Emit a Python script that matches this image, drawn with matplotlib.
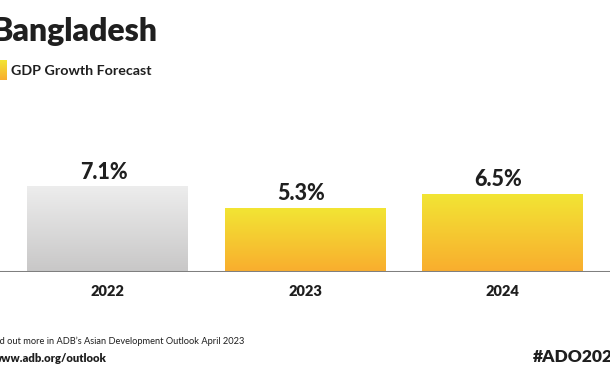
import numpy as np
import matplotlib.pyplot as plt
from matplotlib.colors import LinearSegmentedColormap

# Data
years = ["2022", "2023", "2024"]
growth = [7.1, 5.3, 6.5]
labels = ["7.1%", "5.3%", "6.5%"]
actual = [True, False, False]   # 2022 is actual (grey), rest forecast (yellow)

grey_cmap = LinearSegmentedColormap.from_list("grey", ["#c8c7c7", "#ededed"])
gold_cmap = LinearSegmentedColormap.from_list("gold", ["#f9ad2e", "#f2e534"])

fig = plt.figure(figsize=(6.1, 3.8), dpi=100)
fig.patch.set_facecolor("white")
ax = fig.add_axes([0, 108 / 380, 1, 120 / 380])

bar_w = 0.815
x = np.arange(len(years))
grad = np.linspace(0, 1, 256).reshape(-1, 1)
ink = "#1f1f1f"

for xi, val, lab, is_act in zip(x, growth, labels, actual):
    cmap = grey_cmap if is_act else gold_cmap
    ax.imshow(grad, extent=(xi - bar_w / 2, xi + bar_w / 2, 0, val),
              origin="lower", cmap=cmap, aspect="auto", zorder=1)
    ax.text(xi - 0.02, val + 0.35, lab, ha="center", va="bottom",
            fontsize=15.5, fontweight="black", family="Lato", color=ink)
    ax.text(xi, -1.05, years[xi], ha="center", va="top",
            fontsize=10.5, fontweight="heavy", family="Lato", color=ink)

ax.axhline(0, color="#7f7f7f", lw=2.2, zorder=3)
ax.set_xlim(-0.544, 2.544)
ax.set_ylim(0, 10)
ax.axis("off")

# Title and legend
fig.text(-0.014, 1 - 32 / 380, "Bangladesh", ha="left", va="center",
         fontsize=23, fontweight="heavy", family="Lato", color=ink)
leg = fig.add_axes([-0.01, 1 - 80 / 380, 0.02, 20 / 380])
leg.imshow(grad, origin="lower", cmap=gold_cmap, aspect="auto",
           extent=(0, 1, 0, 1))
leg.axis("off")
fig.text(11 / 610, 1 - 71 / 380, "GDP Growth Forecast", ha="left", va="center",
         fontsize=10.3, fontweight="bold", family="Lato", color=ink)

# Footer
fig.text(-0.021, 1 - 341 / 380, "Find out more in ADB\u2019s Asian Development Outlook April 2023",
         ha="left", va="center", fontsize=6.7, family="Lato", color=ink)
fig.text(-0.012, 1 - 358 / 380, "www.adb.org/outlook", ha="left", va="center",
         fontsize=8.1, fontweight="heavy", family="Lato", color=ink)
fig.text(533 / 610, 1 - 357 / 380, "#ADO2023", ha="left", va="center",
         fontsize=12.5, fontweight="heavy", family="Lato", color=ink)

fig.savefig("out.png", dpi=100)
